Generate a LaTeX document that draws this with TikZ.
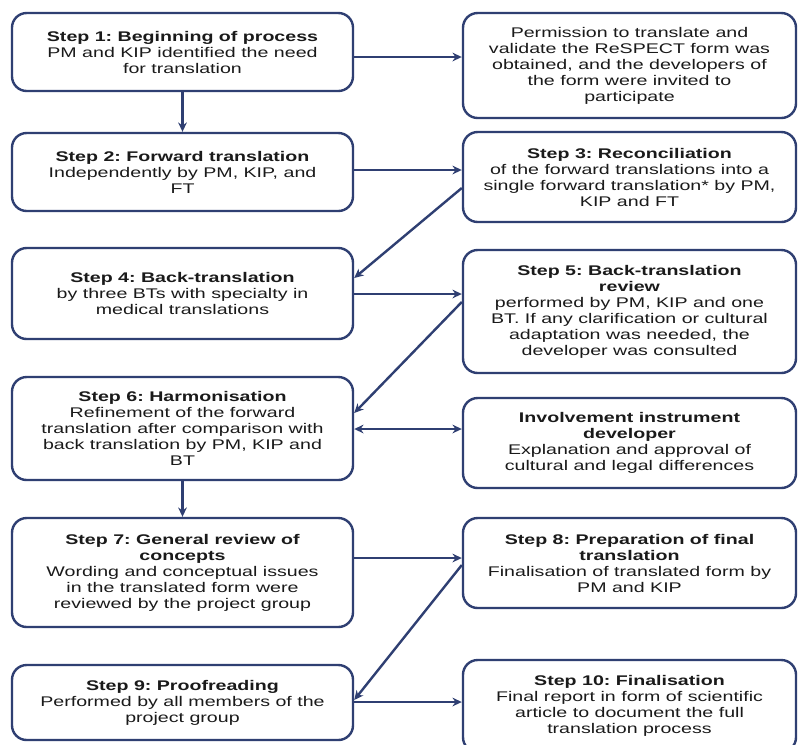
\documentclass[tikz,border=0pt]{standalone}
\usepackage{fontspec}
\setmainfont[FakeStretch=1.4]{Liberation Sans}
\usetikzlibrary{arrows.meta,calc}
\definecolor{navy}{HTML}{2F3F72}
\definecolor{txt}{HTML}{1A1A1A}
\frenchspacing
\begin{document}
\begin{tikzpicture}[x=0.75pt,y=-0.75pt,
  box/.style={draw=navy, line width=1.8pt, rounded corners=11pt, fill=white,
    align=center, text=txt, inner sep=2pt,
    font=\fontsize{10.5}{12}\selectfont},
  lbox/.style={box, minimum width=255.75pt},
  rbox/.style={box, minimum width=249.75pt},
  arr/.style={draw=navy, line width=1.8pt, -{Stealth[length=7pt,width=6.5pt]}},
  darr/.style={draw=navy, line width=1.8pt, {Stealth[length=7pt,width=6.5pt]}-{Stealth[length=7pt,width=6.5pt]}}
]
\useasboundingbox (0,0) rectangle (798,744);
\clip (0,0) rectangle (798,744);
\fill[white] (0,0) rectangle (798,744);

% left column
\node[lbox, minimum height=58.5pt] (b1) at (182.5,52)
  {\textbf{Step 1: Beginning of process}\\PM and KIP identified the need\\for translation};
\node[lbox, minimum height=58.5pt] (b2) at (182.5,172)
  {\textbf{Step 2: Forward translation}\\Independently by PM, KIP, and\\FT};
\node[lbox, minimum height=68.25pt] (b4) at (182.5,293.5)
  {\textbf{Step 4: Back-translation}\\by three BTs with specialty in\\medical translations};
\node[lbox, minimum height=77.25pt] (b6) at (182.5,428.5)
  {\textbf{Step 6: Harmonisation}\\Refinement of the forward\\translation after comparison with\\back translation by PM, KIP and\\BT};
\node[lbox, minimum height=81.75pt] (b7) at (182.5,572.5)
  {\textbf{Step 7: General review of}\\\textbf{concepts}\\Wording and conceptual issues\\in the translated form were\\reviewed by the project group};
\node[lbox, minimum height=56.25pt] (b9) at (182.5,702.5)
  {\textbf{Step 9: Proofreading}\\Performed by all members of the\\project group};

% right column
\node[rbox, minimum height=78.75pt] (r1) at (629.5,65.5)
  {Permission to translate and\\validate the ReSPECT form was\\obtained, and the developers of\\the form were invited to\\participate};
\node[rbox, minimum height=67.5pt] (r3) at (629.5,177)
  {\textbf{Step 3: Reconciliation}\\of the forward translations into a\\single forward translation* by PM,\\KIP and FT};
\node[rbox, minimum height=92.25pt] (r5) at (629.5,311.5)
  {\textbf{Step 5: Back-translation}\\\textbf{review}\\performed by PM, KIP and one\\BT. If any clarification or cultural\\adaptation was needed, the\\developer was consulted};
\node[rbox, minimum height=67.5pt] (r6) at (629.5,443)
  {\textbf{Involvement instrument}\\\textbf{developer}\\Explanation and approval of\\cultural and legal differences};
\node[rbox, minimum height=67.5pt] (r8) at (629.5,563)
  {\textbf{Step 8: Preparation of final}\\\textbf{translation}\\Finalisation of translated form by\\PM and KIP};
\node[rbox, minimum height=69pt] (r10) at (629.5,706)
  {\textbf{Step 10: Finalisation}\\Final report in form of scientific\\article to document the full\\translation process};

% connectors
\draw[arr] (b1.east |- 0,57) -- (r1.west |- 0,57);
\draw[arr] (b1.south) -- (b2.north);
\draw[arr] (b2.east |- 0,170) -- (r3.west |- 0,170);
\draw[arr] (r3.west |- 0,188) -- (b4.east |- 0,278);
\draw[arr] (b4.east |- 0,294) -- (r5.west |- 0,294);
\draw[arr] (r5.west |- 0,302) -- (b6.east |- 0,413);
\draw[darr] (b6.east |- 0,429) -- (r6.west |- 0,429);
\draw[arr] (b6.south) -- (b7.north);
\draw[arr] (b7.east |- 0,558) -- (r8.west |- 0,558);
\draw[arr] (r8.west |- 0,565) -- (b9.east |- 0,700);
\draw[arr] (b9.east |- 0,702) -- (r10.west |- 0,702);
\end{tikzpicture}
\end{document}
